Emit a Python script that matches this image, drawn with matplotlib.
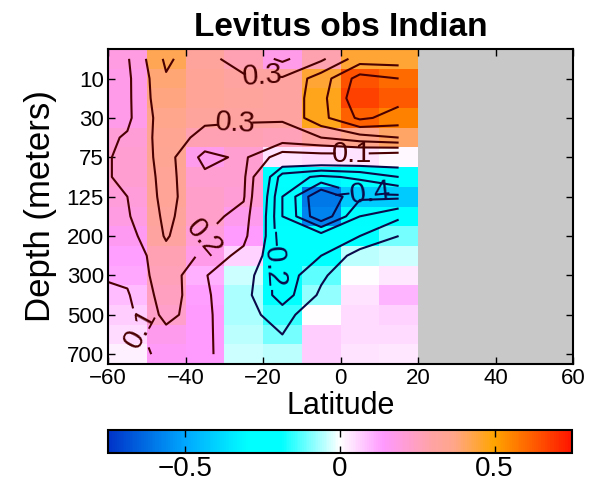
import numpy as np
import matplotlib
matplotlib.use("Agg")
import matplotlib.pyplot as plt
from matplotlib.colors import LinearSegmentedColormap, Normalize

# Standard levels (m) and latitude band centres (deg)
depths = [0, 10, 20, 30, 50, 75, 100, 125, 150, 200, 250, 300, 400, 500, 600, 700]
depth_ticks = [10, 30, 75, 125, 200, 300, 500, 700]
lats = [-65, -55, -45, -35, -25, -15, -5, 5, 15]

# Anomaly profiles, one per latitude band (surface -> 700 m)
lat_65s = [0.15, 0.14, 0.14, 0.15, 0.16, 0.17, 0.17, 0.16, 0.15, 0.14, 0.12, 0.10, 0.08, 0.06, 0.05, 0.03]
lat_55s = [0.19, 0.18, 0.18, 0.18, 0.21, 0.22, 0.22, 0.20, 0.19, 0.16, 0.13, 0.12, 0.09, 0.07, 0.05, 0.02]
lat_45s = [0.42, 0.39, 0.38, 0.36, 0.35, 0.34, 0.33, 0.33, 0.32, 0.31, 0.27, 0.26, 0.25, 0.23, 0.17, 0.15]
lat_35s = [0.32, 0.33, 0.33, 0.32, 0.27, 0.17, 0.22, 0.23, 0.23, 0.20, 0.18, 0.11, 0.13, 0.14, 0.14, 0.14]
lat_25s = [0.27, 0.31, 0.32, 0.31, 0.27, 0.22, 0.22, 0.21, 0.17, 0.14, 0.06, -0.04, -0.06, -0.06, -0.05, -0.04]
lat_15s = [0.18, 0.31, 0.31, 0.31, 0.26, 0.04, -0.25, -0.30, -0.30, -0.28, -0.27, -0.26, -0.25, -0.15, -0.10, -0.05]
lat_05s = [0.28, 0.45, 0.47, 0.47, 0.30, 0.05, -0.32, -0.60, -0.58, -0.25, -0.20, -0.12, -0.08, 0.00, 0.07, 0.07]
lat_05n = [0.45, 0.64, 0.67, 0.62, 0.36, 0.04, -0.28, -0.42, -0.30, -0.20, -0.05, 0.00, 0.04, 0.05, 0.05, 0.04]
lat_15n = [0.45, 0.60, 0.63, 0.56, 0.40, 0.01, -0.20, -0.42, -0.22, -0.10, -0.04, 0.03, 0.10, 0.06, 0.05, 0.03]

profiles = [lat_65s, lat_55s, lat_45s, lat_35s, lat_25s, lat_15s, lat_05s, lat_05n, lat_15n]
field = np.array(profiles).T  # shape (depth, lat)

levels = [-0.6, -0.5, -0.4, -0.3, -0.2, -0.1, 0.1, 0.2, 0.3, 0.4, 0.5, 0.6]
vmin, vmax = -0.75, 0.75

stops = [(-0.75, "#0033c8"), (-0.5, "#00a8ff"), (-0.3, "#00ffff"), (-0.19, "#00ffff"),
         (0.0, "#ffffff"), (0.14, "#ff99ff"), (0.3, "#ffa3a3"), (0.37, "#ffa68a"),
         (0.5, "#ffa500"), (0.75, "#ff1500")]
cmap = LinearSegmentedColormap.from_list(
    "bwo", [((v - vmin) / (vmax - vmin), c) for v, c in stops], N=256)
norm = Normalize(vmin, vmax)

plt.rcParams["font.family"] = ["Liberation Sans", "DejaVu Sans"]


def label_fmt(v):
    return f"{v:.1f}".replace("-", "\u2212")


fig = plt.figure(figsize=(5.99, 4.83), dpi=100)
ax = fig.add_axes([108 / 599, 1 - 364 / 483, 465 / 599, 315 / 483])
ax.set_facecolor("#c8c8c8")

lat_arr = np.array(lats, dtype=float)
x_edges = np.concatenate([lat_arr - 5, [lat_arr[-1] + 5]])
y_idx = np.arange(len(depths))
y_edges = np.arange(len(depths) + 1) - 0.5

mesh = ax.pcolormesh(x_edges, y_edges, field, cmap=cmap, norm=norm, shading="flat")

neg = [l for l in levels if l < 0]
pos = [l for l in levels if l > 0]
cn = ax.contour(lat_arr, y_idx, field, levels=neg, colors="#0a0a4a",
                linewidths=1.5, linestyles="solid")
cp = ax.contour(lat_arr, y_idx, field, levels=pos, colors="#4a0000",
                linewidths=1.5, linestyles="solid")

ax.clabel(cp, fontsize=21, fmt=label_fmt, inline_spacing=2,
          manual=[(-20, 0.4), (-27, 3.6), (-34.5, 9.2), (-50.5, 13.5), (3, 5.0)])
ax.clabel(cn, fontsize=21, fmt=label_fmt, inline_spacing=2,
          manual=[(5.5, 6.6), (-17, 10.2)])

ax.set_xlim(-60, 60)
ax.set_ylim(len(depths) - 0.5, -0.5)
ax.set_xticks([-60, -40, -20, 0, 20, 40, 60])
ax.set_xticklabels(["\u221260", "\u221240", "\u221220", "0", "20", "40", "60"])
ax.set_yticks([depths.index(d) for d in depth_ticks])
ax.set_yticklabels([str(d) for d in depth_ticks])
ax.tick_params(direction="in", length=5, width=1, labelsize=16, top=True, right=True, pad=3)
for s in ax.spines.values():
    s.set_linewidth(1.5)

ax.set_xlabel("Latitude", fontsize=22, labelpad=1)
ax.set_ylabel("Depth (meters)", fontsize=25, labelpad=7)
ax.set_title("Levitus obs Indian", fontsize=24, fontweight="bold", pad=9)

cax = fig.add_axes([108 / 599, 1 - 453 / 483, 464 / 599, 23 / 483])
cb = fig.colorbar(mesh, cax=cax, orientation="horizontal")
cb.set_ticks([-0.5, 0, 0.5])
cb.set_ticklabels(["\u22120.5", "0", "0.5"])
cax.tick_params(direction="in", length=5, width=1, labelsize=20, top=True, bottom=True, pad=2)
cb.outline.set_linewidth(1.5)

fig.savefig("out.png", dpi=100)
